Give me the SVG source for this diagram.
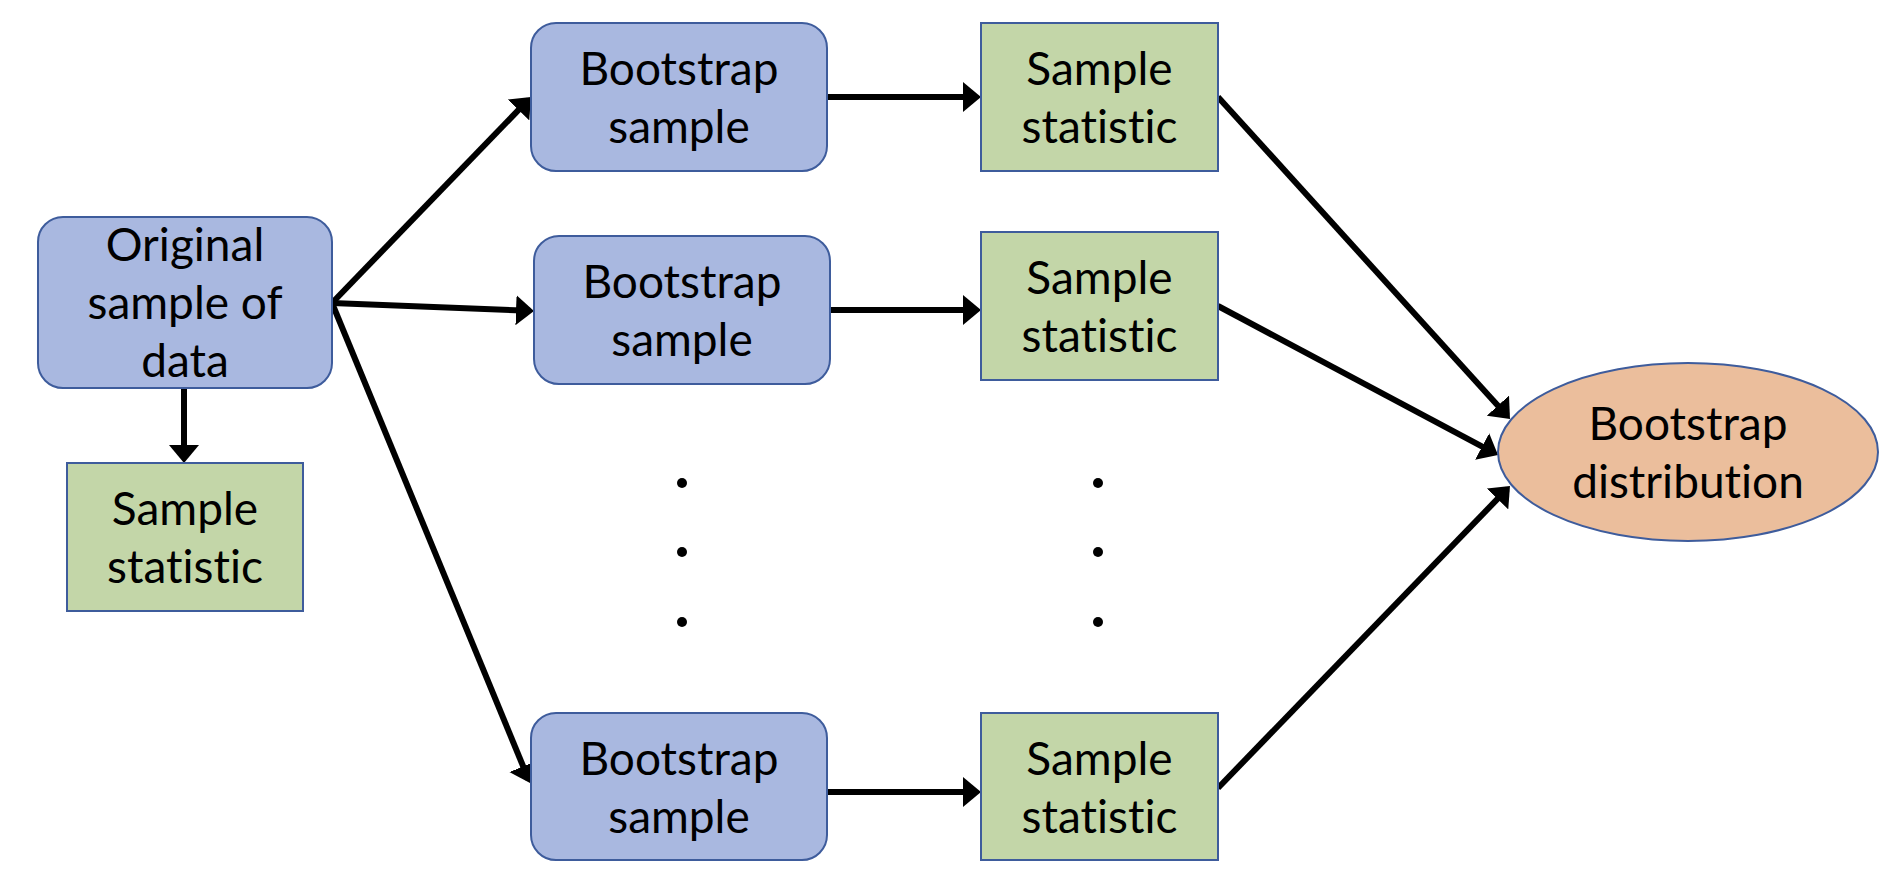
<svg xmlns="http://www.w3.org/2000/svg" width="1887" height="884" viewBox="0 0 1887 884">
<style>
.blue{fill:#A9B8E0;stroke:#3E5C9C;stroke-width:2}
.green{fill:#C3D6A8;stroke:#3E5C9C;stroke-width:2}
.orange{fill:#EBBE9C;stroke:#3E5C9C;stroke-width:2}
.t{font-family:Lato,"Liberation Sans",sans-serif;font-size:46px;fill:#000;text-anchor:middle;font-variant-ligatures:none}
.c{stroke:#000;stroke-width:6;fill:none;marker-end:url(#ah)}
</style>
<defs>
<marker id="ah" viewBox="0 0 18 30" refX="14" refY="15" markerWidth="18" markerHeight="30" markerUnits="userSpaceOnUse" orient="auto">
<path d="M0,0 L18,15 L0,30 Z" fill="#000"/>
</marker>
</defs>
<rect width="1887" height="884" fill="#fff"/>
<g id="connectors">
<line class="c" x1="184" y1="388" x2="184" y2="459"/>
<line class="c" x1="332" y1="303" x2="528.2" y2="99.9"/>
<line class="c" x1="332" y1="303" x2="530" y2="310.8"/>
<line class="c" x1="332" y1="303" x2="528.5" y2="779.3"/>
<line class="c" x1="827" y1="97" x2="977" y2="97"/>
<line class="c" x1="830" y1="310" x2="977" y2="310"/>
<line class="c" x1="827" y1="792" x2="977" y2="792"/>
<line class="c" x1="1218" y1="97" x2="1507.3" y2="416"/>
<line class="c" x1="1218" y1="306" x2="1494.5" y2="453.1"/>
<line class="c" x1="1218" y1="788" x2="1507.2" y2="488.9"/>
</g>
<g id="original">
<rect class="blue" x="38" y="217" width="294" height="171" rx="25"/>
<text class="t" x="185" y="261">Original</text>
<text class="t" x="185" y="319">sample of</text>
<text class="t" x="185" y="377">data</text>
</g>
<g id="stat0">
<rect class="green" x="67" y="463" width="236" height="148"/>
<text class="t" x="185" y="525">Sample</text>
<text class="t" x="185" y="583">statistic</text>
</g>
<g id="boot1">
<rect class="blue" x="531" y="23" width="296" height="148" rx="25"/>
<text class="t" x="679" y="85">Bootstrap</text>
<text class="t" x="679" y="143">sample</text>
</g>
<g id="stat1">
<rect class="green" x="981" y="23" width="237" height="148"/>
<text class="t" x="1099.5" y="85">Sample</text>
<text class="t" x="1099.5" y="143">statistic</text>
</g>
<g id="boot2">
<rect class="blue" x="534" y="236" width="296" height="148" rx="25"/>
<text class="t" x="682" y="298">Bootstrap</text>
<text class="t" x="682" y="356">sample</text>
</g>
<g id="stat2">
<rect class="green" x="981" y="232" width="237" height="148"/>
<text class="t" x="1099.5" y="294">Sample</text>
<text class="t" x="1099.5" y="352">statistic</text>
</g>
<g id="boot3">
<rect class="blue" x="531" y="713" width="296" height="147" rx="25"/>
<text class="t" x="679" y="775">Bootstrap</text>
<text class="t" x="679" y="833">sample</text>
</g>
<g id="stat3">
<rect class="green" x="981" y="713" width="237" height="147"/>
<text class="t" x="1099.5" y="775">Sample</text>
<text class="t" x="1099.5" y="833">statistic</text>
</g>
<g id="dots1">
<circle cx="682" cy="483" r="5"/>
<circle cx="682" cy="552" r="5"/>
<circle cx="682" cy="622" r="5"/>
</g>
<g id="dots2">
<circle cx="1098" cy="483" r="5"/>
<circle cx="1098" cy="552" r="5"/>
<circle cx="1098" cy="622" r="5"/>
</g>
<g id="distribution">
<ellipse class="orange" cx="1688" cy="452" rx="190" ry="89"/>
<text class="t" x="1688" y="440">Bootstrap</text>
<text class="t" x="1688" y="498">distribution</text>
</g>
</svg>
